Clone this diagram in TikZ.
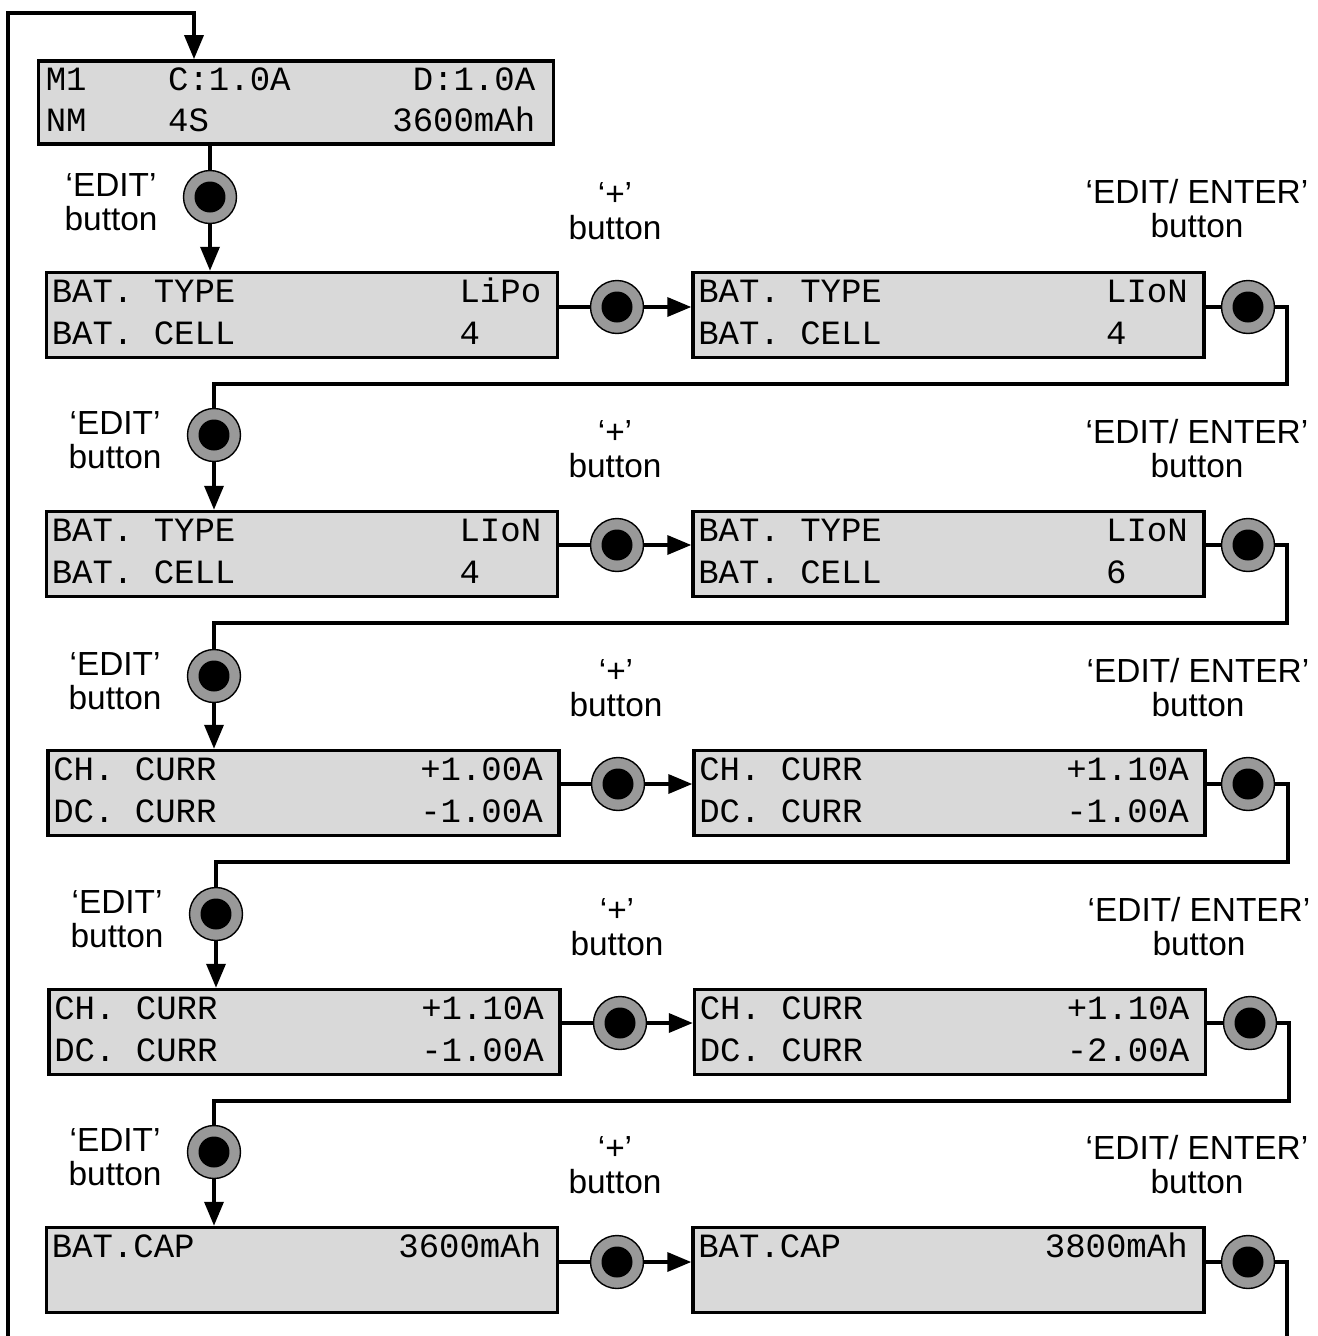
\documentclass[tikz,border=0pt]{standalone}
\usepackage{fontspec}
\setmainfont{Liberation Sans}
\newfontfamily\lcdfont{Liberation Mono}
% one LCD column = one mono glyph
\protected\def\lcdsetup{\lcdfont\fontsize{19.35pt}{23.7pt}\selectfont\def~{\hbox to 0.6em{}}}
\newcommand{\lcdend}{\hspace*{0.22cm}\strut}
\usetikzlibrary{arrows.meta,positioning}

\begin{document}
\begin{tikzpicture}[x=0.02cm, y=-0.02cm,
  lcd/.style={draw, line width=2pt, fill=black!15, minimum width=10.22cm, minimum height=1.70cm, text width=10.01cm, align=left, inner xsep=0.104cm, inner ysep=0pt, font=\lcdsetup},
  btn/.style={circle, draw, line width=0.8pt, fill=black!40, minimum size=1.06cm, inner sep=0pt, path picture={\fill[black] (path picture bounding box.center) circle (0.31cm);}},
  lbl/.style={align=center, inner sep=0pt, font=\fontsize{19pt}{19.3pt}\selectfont},
  wire/.style={line width=2pt},
  arr/.style={-{Triangle[length=0.48cm, width=0.38cm]}, line width=2pt},
]
\useasboundingbox (0,0) rectangle (1318,1336);

% ─── Start screen ───
\node[lcd, minimum width=10.30cm, minimum height=1.64cm] (top) at (296,102.5) {M1~~~~C:1.0A\hfill D:1.0A\lcdend\\NM~~~~4S\hfill 3600mAh\lcdend};
\node[btn] (b0) at (210,197) {};
\node[lbl, left=0.5cm of b0, yshift=-0.1cm] (l0) {‘EDIT’\\button};
\draw[wire] (b0 |- top.south) -- (b0);

% ─── Row 1: battery type (y = 315) ───
\node[lcd] (d1a) at (302,315) {BAT.~TYPE\hfill LiPo\lcdend\\BAT.~CELL\hfill 4~~~\lcdend};
\node[lcd] (d1b) at (948.5,315) {BAT.~TYPE\hfill LIoN\lcdend\\BAT.~CELL\hfill 4~~~\lcdend};
\node[btn] (p1) at (617,307) {};
\node[btn] (e1) at (1248,307) {};
\node[lbl] (lp1) at (615,211) {‘+’\\button};
\node[lbl] (le1) at (1197,209) {‘EDIT/ ENTER’\\button};
\draw[arr] (b0) -- (b0 |- d1a.north);
\draw[wire] (d1a.east |- p1) -- (p1);
\draw[arr] (p1) -- (p1 -| d1b.west);
\draw[wire] (d1b.east |- e1) -- (e1);

% ─── Row 2: cell count (y = 554) ───
\coordinate (r1) at (1287,384);
\node[btn] (b1) at (214,435) {};
\node[lbl, left=0.5cm of b1, yshift=-0.1cm] (l1) {‘EDIT’\\button};
\node[lcd] (d2a) at (302,554) {BAT.~TYPE\hfill LIoN\lcdend\\BAT.~CELL\hfill 4~~~\lcdend};
\node[lcd] (d2b) at (948.5,554) {BAT.~TYPE\hfill LIoN\lcdend\\BAT.~CELL\hfill 6~~~\lcdend};
\node[btn] (p2) at (617,545) {};
\node[btn] (e2) at (1248,545) {};
\node[lbl] (lp2) at (615,449) {‘+’\\button};
\node[lbl] (le2) at (1197,449) {‘EDIT/ ENTER’\\button};
\draw[wire] (e1) -| (r1) -| (b1);
\draw[arr] (b1) -- (b1 |- d2a.north);
\draw[wire] (d2a.east |- p2) -- (p2);
\draw[arr] (p2) -- (p2 -| d2b.west);
\draw[wire] (d2b.east |- e2) -- (e2);

% ─── Row 3: charge current (y = 793) ───
\coordinate (r2) at (1287,623);
\node[btn] (b2) at (214,676) {};
\node[lbl, left=0.5cm of b2, yshift=-0.1cm] (l2) {‘EDIT’\\button};
\node[lcd] (d3a) at (303.5,793) {CH.~CURR\hfill +1.00A\lcdend\\DC.~CURR\hfill -1.00A\lcdend};
\node[lcd] (d3b) at (949.5,793) {CH.~CURR\hfill +1.10A\lcdend\\DC.~CURR\hfill -1.00A\lcdend};
\node[btn] (p3) at (618,784) {};
\node[btn] (e3) at (1248,784) {};
\node[lbl] (lp3) at (616,688) {‘+’\\button};
\node[lbl] (le3) at (1198,688) {‘EDIT/ ENTER’\\button};
\draw[wire] (e2) -| (r2) -| (b2);
\draw[arr] (b2) -- (b2 |- d3a.north);
\draw[wire] (d3a.east |- p3) -- (p3);
\draw[arr] (p3) -- (p3 -| d3b.west);
\draw[wire] (d3b.east |- e3) -- (e3);

% ─── Row 4: discharge current (y = 1032) ───
\coordinate (r3) at (1288,862);
\node[btn] (b3) at (216,914) {};
\node[lbl, left=0.5cm of b3, yshift=-0.1cm] (l3) {‘EDIT’\\button};
\node[lcd] (d4a) at (304.5,1032) {CH.~CURR\hfill +1.10A\lcdend\\DC.~CURR\hfill -1.00A\lcdend};
\node[lcd] (d4b) at (950,1032) {CH.~CURR\hfill +1.10A\lcdend\\DC.~CURR\hfill -2.00A\lcdend};
\node[btn] (p4) at (620,1023) {};
\node[btn] (e4) at (1250,1023) {};
\node[lbl] (lp4) at (617,927) {‘+’\\button};
\node[lbl] (le4) at (1199,927) {‘EDIT/ ENTER’\\button};
\draw[wire] (e3) -| (r3) -| (b3);
\draw[arr] (b3) -- (b3 |- d4a.north);
\draw[wire] (d4a.east |- p4) -- (p4);
\draw[arr] (p4) -- (p4 -| d4b.west);
\draw[wire] (d4b.east |- e4) -- (e4);

% ─── Row 5: capacity (y = 1270) ───
\coordinate (r4) at (1289,1101);
\node[btn] (b4) at (214,1152) {};
\node[lbl, left=0.5cm of b4, yshift=-0.1cm] (l4) {‘EDIT’\\button};
\node[lcd] (d5a) at (302,1270) {BAT.CAP\hfill 3600mAh\lcdend\\\strut};
\node[lcd] (d5b) at (948.5,1270) {BAT.CAP\hfill 3800mAh\lcdend\\\strut};
\node[btn] (p5) at (617,1262) {};
\node[btn] (e5) at (1248,1262) {};
\node[lbl] (lp5) at (615,1165) {‘+’\\button};
\node[lbl] (le5) at (1197,1165) {‘EDIT/ ENTER’\\button};
\draw[wire] (e4) -| (r4) -| (b4);
\draw[arr] (b4) -- (b4 |- d5a.north);
\draw[wire] (d5a.east |- p5) -- (p5);
\draw[arr] (p5) -- (p5 -| d5b.west);
\draw[wire] (d5b.east |- e5) -- (e5);

% ─── Return loop (runs off the bottom edge) ───
\coordinate (loopR) at (1287,1336);
\coordinate (loopL) at (8,1336);
\coordinate (loopT) at (194,13);
\draw[wire] (e5) -| (loopR);
\draw[arr] (loopL) |- (loopT) -- (loopT |- top.north);

\end{tikzpicture}
\end{document}
